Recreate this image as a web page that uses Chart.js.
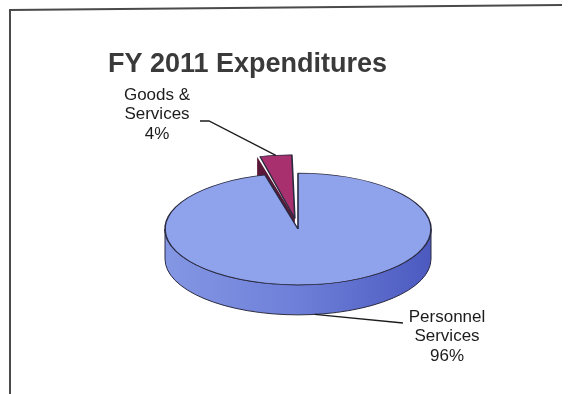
<!DOCTYPE html>
<html>
<head>
<meta charset="utf-8">
<script src="https://cdn.jsdelivr.net/npm/chart.js@4.4.1/dist/chart.umd.min.js"></script>
<style>
  html, body { margin: 0; padding: 0; background: #fff; }
  #wrap { width: 569px; height: 394px; }
</style>
</head>
<body>
<div id="wrap"><canvas id="pie"></canvas></div>
<script>
const categories = ["Personnel Services", "Goods & Services"];
const labelLines = [["Personnel", "Services"], ["Goods &", "Services"]];
const shares = [96, 4];
const topColors = ["#8fa2ec", "#a8306f"];
const sideColors = [["#8497e4", "#6d7fd8", "#4c5ac0"], ["#5a1838", "#5a1838", "#5a1838"]];
const explode = [0, 100];

const TILT = 0.42;  // vertical squash of the pie
const DEPTH = 30;   // thickness of the pie

function squash(ctx, cx, cy) {
  ctx.translate(cx, cy);
  ctx.scale(1, TILT);
  ctx.translate(-cx, -cy);
}

// where Chart.js really puts an arc once its offset is applied
function arcGeom(arc) {
  const off = (arc.options.offset || 0) / 4;
  const circ = arc.endAngle - arc.startAngle;
  const mid = (arc.startAngle + arc.endAngle) / 2;
  const fix = 1 - Math.sin(Math.min(Math.PI, circ));
  return {
    cx: arc.x + Math.cos(mid) * off,
    cy: arc.y + Math.sin(mid) * off * TILT,
    r: arc.outerRadius + off * fix,
    mid: mid, start: arc.startAngle, end: arc.endAngle
  };
}

function pt(g, a, r, drop) {
  return [g.cx + Math.cos(a) * r, g.cy + Math.sin(a) * r * TILT + (drop || 0)];
}

// parts of [a, b] on the near half of the ellipse
function frontSpans(a, b) {
  const spans = [];
  for (let k = -1; k <= 1; k++) {
    const lo = Math.max(a, k * 2 * Math.PI), hi = Math.min(b, k * 2 * Math.PI + Math.PI);
    if (hi > lo) spans.push([lo, hi]);
  }
  return spans;
}

const pie3d = {
  id: 'pie3d',
  beforeDraw(chart) {
    const ctx = chart.ctx;
    ctx.save();
    ctx.strokeStyle = '#4a4a4a';
    ctx.lineWidth = 2;
    ctx.beginPath();
    ctx.moveTo(10, 394);
    ctx.lineTo(10, 10);
    ctx.lineTo(562, 5);
    ctx.stroke();
    ctx.restore();
  },
  beforeDatasetsDraw(chart) {
    const ctx = chart.ctx;
    const arcs = chart.getDatasetMeta(0).data;
    ctx.save();
    ctx.strokeStyle = '#2a2a40';
    ctx.lineWidth = 1;
    arcs.forEach((arc, i) => {
      const g = arcGeom(arc);
      // radial faces that turn toward the viewer
      [[g.start, -1], [g.end, 1]].forEach(([a, s]) => {
        if (s * Math.cos(a) <= 0.01) return;
        const p = pt(g, a, g.r);
        ctx.beginPath();
        ctx.moveTo(g.cx, g.cy);
        ctx.lineTo(p[0], p[1]);
        ctx.lineTo(p[0], p[1] + DEPTH);
        ctx.lineTo(g.cx, g.cy + DEPTH);
        ctx.closePath();
        ctx.fillStyle = sideColors[i][0];
        ctx.fill();
      });
      // outer wall
      frontSpans(g.start, g.end).forEach(([lo, hi]) => {
        const grad = ctx.createLinearGradient(g.cx - g.r, 0, g.cx + g.r, 0);
        grad.addColorStop(0, sideColors[i][0]);
        grad.addColorStop(0.5, sideColors[i][1]);
        grad.addColorStop(1, sideColors[i][2]);
        ctx.beginPath();
        ctx.ellipse(g.cx, g.cy, g.r, g.r * TILT, 0, lo, hi);
        ctx.ellipse(g.cx, g.cy + DEPTH, g.r, g.r * TILT, 0, hi, lo, true);
        ctx.closePath();
        ctx.fillStyle = grad;
        ctx.fill();
        ctx.stroke();
      });
    });
    const a0 = arcs[0];
    squash(ctx, a0.x, a0.y);
  },
  afterDatasetsDraw(chart) {
    chart.ctx.restore();
  },
  afterDraw(chart) {
    const ctx = chart.ctx;
    const arcs = chart.getDatasetMeta(0).data;
    ctx.save();

    ctx.fillStyle = '#3a3a3a';
    ctx.font = 'bold 27px "Liberation Sans", Arial, sans-serif';
    ctx.textAlign = 'left';
    ctx.textBaseline = 'alphabetic';
    ctx.fillText('FY 2011 Expenditures', 108, 72);

    // data labels with leader lines
    const spots = [
      { x: 447, y: 317, line: (g) => { const p = pt(g, g.mid, g.r, DEPTH); return [p, [403, 323]]; } },
      { x: 157, y: 95, line: (g) => { const p = pt(g, g.mid, g.r); return [[200, 121], [209, 121], p]; } }
    ];
    ctx.font = '17px "Liberation Sans", Arial, sans-serif';
    ctx.textAlign = 'center';
    ctx.textBaseline = 'middle';
    arcs.forEach((arc, i) => {
      const g = arcGeom(arc);
      const s = spots[i];
      const lines = labelLines[i].concat([shares[i] + '%']);
      ctx.fillStyle = '#1c1c1c';
      lines.forEach((t, j) => ctx.fillText(t, s.x, s.y + j * 19.5));
      const pts = s.line(g);
      ctx.strokeStyle = '#1c1c1c';
      ctx.lineWidth = 1.3;
      ctx.beginPath();
      ctx.moveTo(pts[0][0], pts[0][1]);
      pts.slice(1).forEach(p => ctx.lineTo(p[0], p[1]));
      ctx.stroke();
    });
    ctx.restore();
  }
};

new Chart(document.getElementById('pie'), {
  type: 'pie',
  data: {
    labels: categories,
    datasets: [{
      data: shares,
      backgroundColor: topColors,
      borderColor: '#2a2a40',
      borderWidth: 1.6,
      offset: explode,
      clip: false
    }]
  },
  options: {
    responsive: true,
    maintainAspectRatio: false,
    animation: false,
    events: [],
    radius: 133,
    layout: { padding: { left: 27, right: 0, top: 64, bottom: 0 } },
    plugins: {
      legend: { display: false },
      tooltip: { enabled: false },
      title: { display: false }
    }
  },
  plugins: [pie3d]
});
</script>
</body>
</html>
